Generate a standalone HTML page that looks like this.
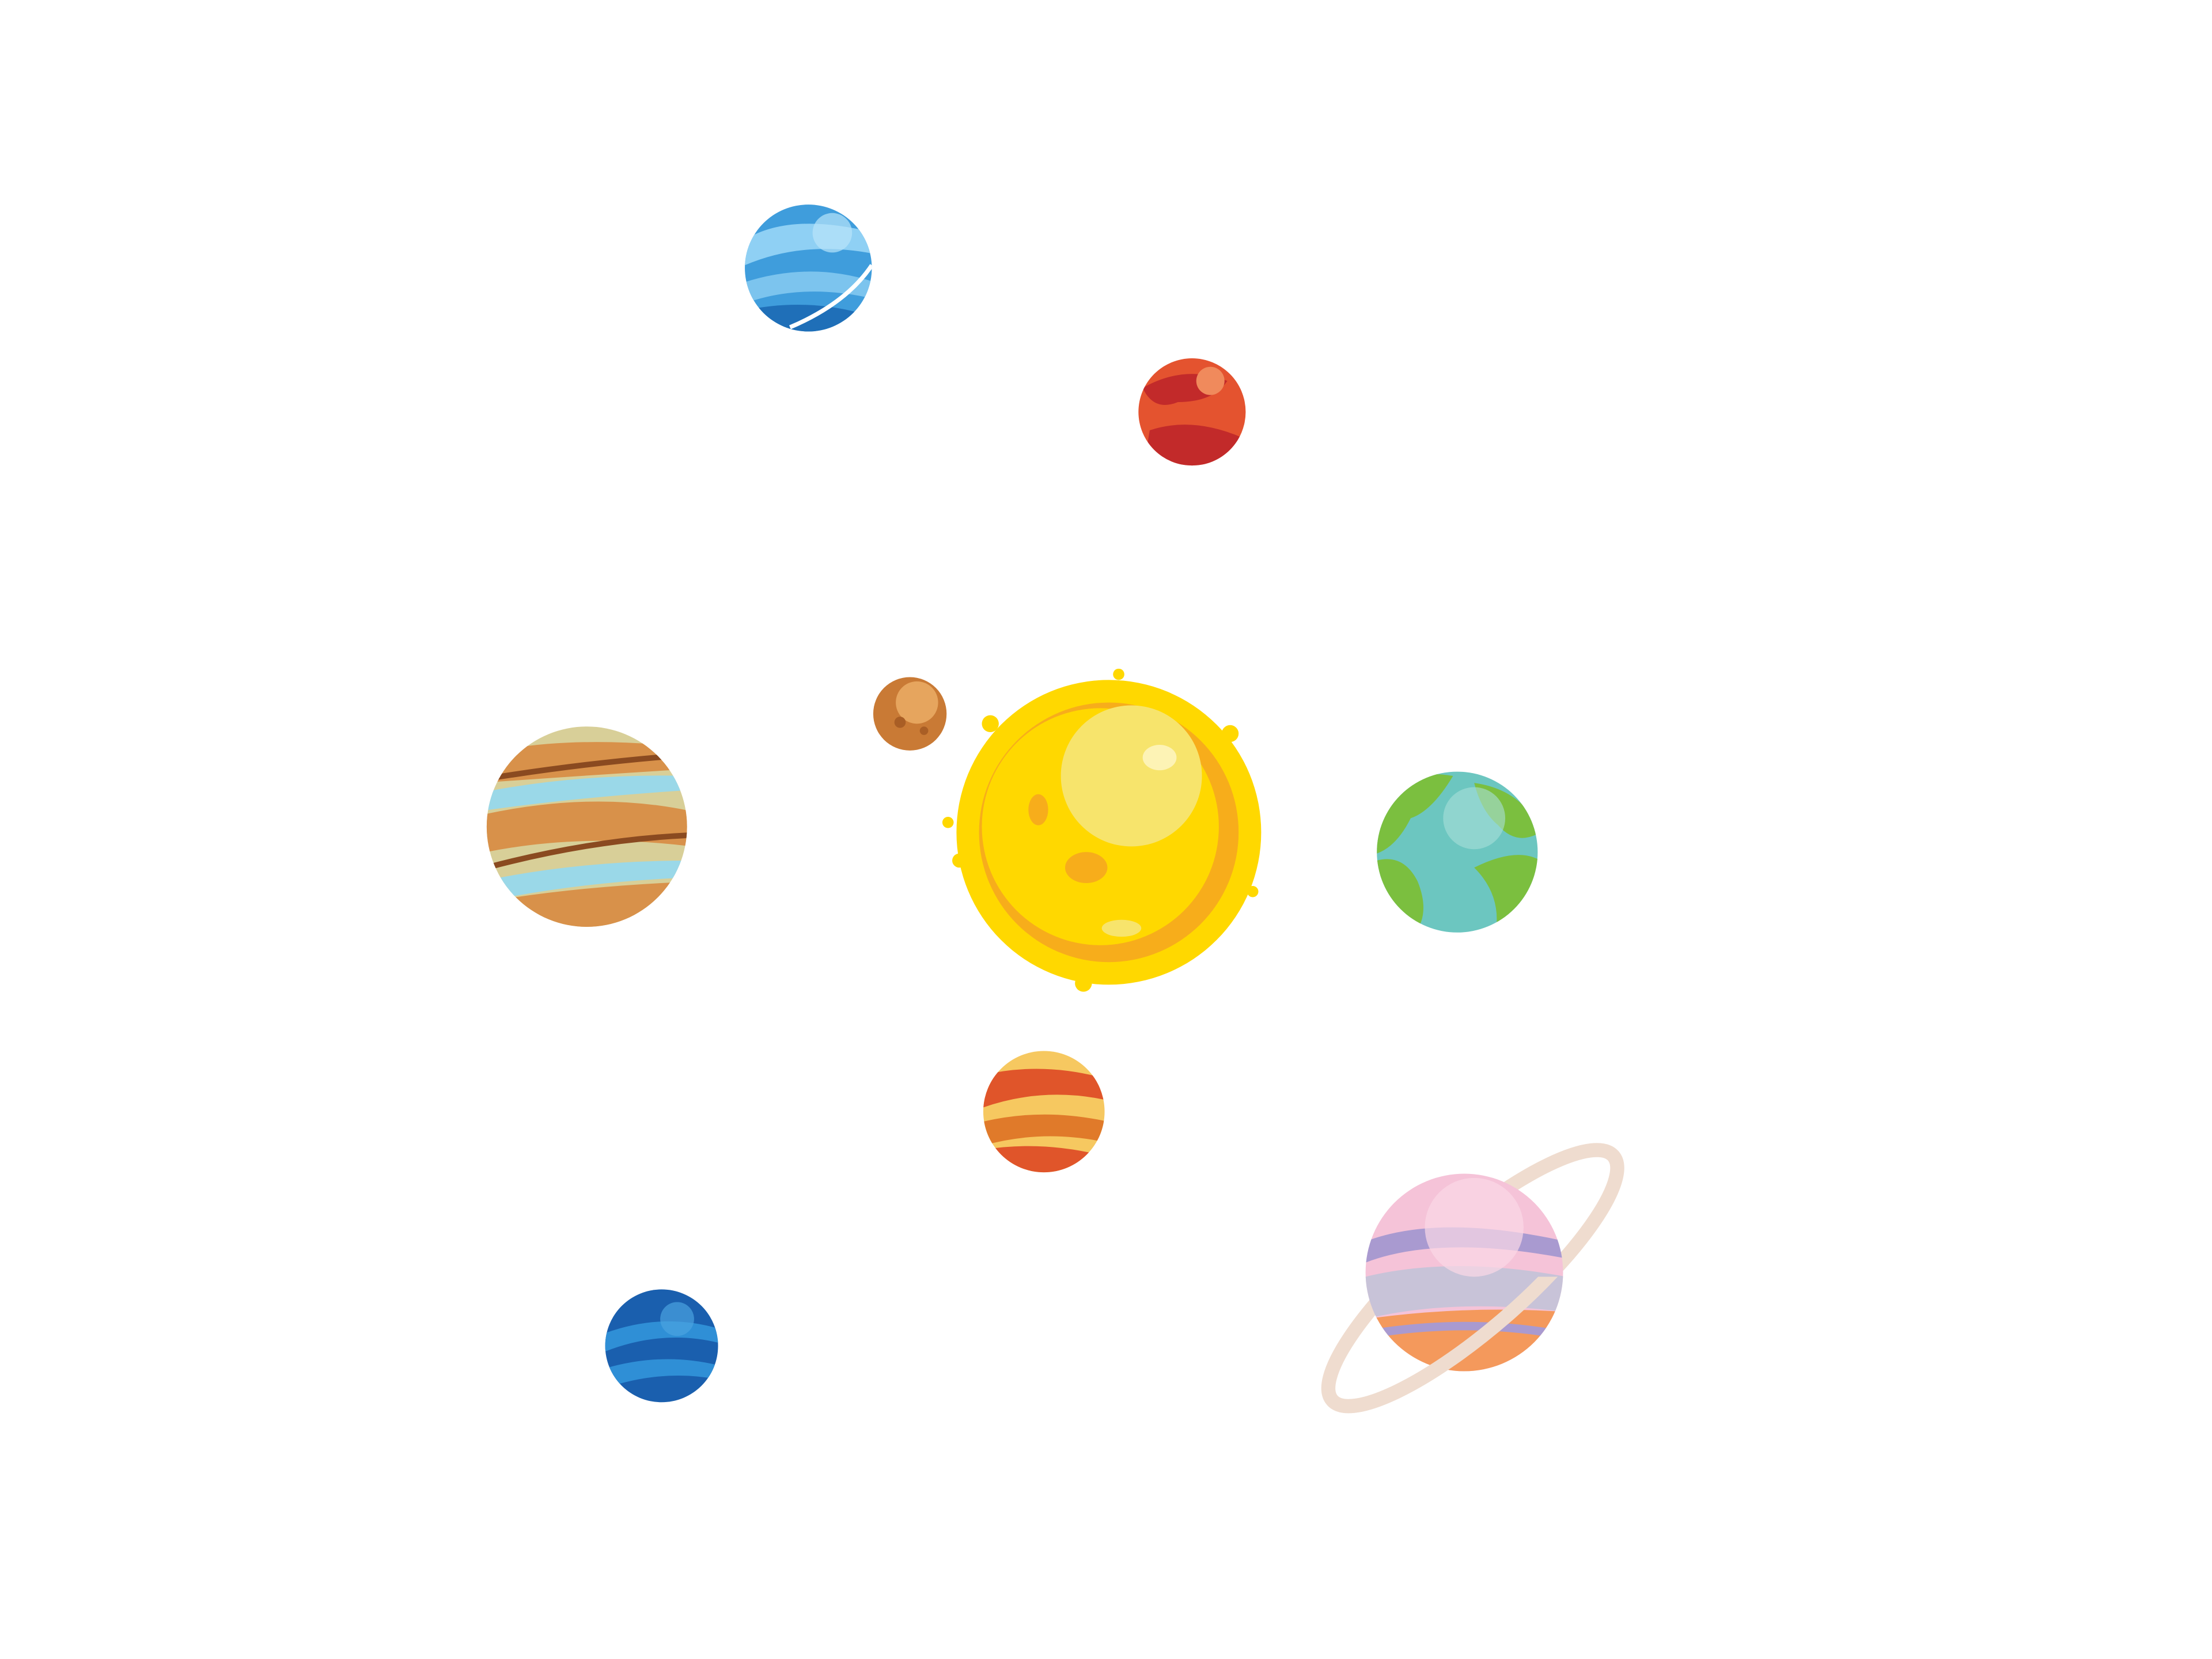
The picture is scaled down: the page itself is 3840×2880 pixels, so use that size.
<!DOCTYPE html>
<html><head><meta charset="utf-8"><style>
html,body{margin:0;padding:0;background:#fff;}
svg{display:block;}
</style></head><body>
<svg width="3840" height="2880" viewBox="0 0 1568 1176" xmlns="http://www.w3.org/2000/svg">
<defs>
<clipPath id="cU"><circle cx="573" cy="190" r="45"/></clipPath>
<clipPath id="cM"><circle cx="845" cy="292" r="38"/></clipPath>
<clipPath id="cJ"><circle cx="416" cy="586" r="71"/></clipPath>
<clipPath id="cE"><circle cx="1033" cy="604" r="57"/></clipPath>
<clipPath id="cV"><circle cx="740" cy="788" r="43"/></clipPath>
<clipPath id="cS"><circle cx="1038" cy="902" r="70"/></clipPath>
<clipPath id="cN"><circle cx="469" cy="954" r="40"/></clipPath>
<clipPath id="cFront"><rect x="900" y="905" width="300" height="200"/></clipPath>
</defs>
<rect width="1568" height="1176" fill="#fff"/>

<g>
<circle cx="573" cy="190" r="45" fill="#3f9ddc"/>
<g clip-path="url(#cU)">
<path d="M528 170 Q560 150 620 165 L620 180 Q570 170 528 188Z" fill="#8fd0f4"/>
<path d="M528 200 Q575 185 620 200 L620 212 Q570 200 528 215Z" fill="#7cc4ee"/>
<path d="M528 220 Q575 210 620 225 L620 240 L528 240Z" fill="#1f6fb8"/>
<circle cx="590" cy="165" r="14" fill="#b8e4fa" opacity=".7"/>
<path d="M560 232 Q600 215 618 188" stroke="#fff" stroke-width="3" fill="none"/>
</g></g>

<g>
<circle cx="845" cy="292" r="38" fill="#e4532f"/>
<g clip-path="url(#cM)">
<path d="M810 275 Q840 258 870 270 Q860 285 835 285 Q818 292 810 275Z" fill="#c22a2a"/>
<path d="M815 305 Q845 295 880 310 L880 335 L810 335Z" fill="#c22a2a"/>
<circle cx="858" cy="270" r="10" fill="#f08a5c"/>
</g></g>

<g>
<circle cx="645" cy="506" r="26" fill="#c97a35"/>
<circle cx="650" cy="498" r="15" fill="#e6a55e"/>
<circle cx="638" cy="512" r="4" fill="#a95e25"/><circle cx="655" cy="518" r="3" fill="#a95e25"/>
</g>

<g>
<circle cx="786" cy="590" r="108" fill="#ffd800"/>
<g fill="#ffd800">
<circle cx="702" cy="513" r="6"/><circle cx="872" cy="520" r="6"/><circle cx="888" cy="632" r="4"/>
<circle cx="768" cy="697" r="6"/><circle cx="680" cy="610" r="5"/><circle cx="672" cy="583" r="4"/>
<circle cx="793" cy="478" r="4"/><circle cx="877" cy="555" r="5"/>
</g>
<circle cx="786" cy="590" r="92" fill="#f7ad1b"/>
<circle cx="780" cy="586" r="84" fill="#ffd800"/>
<circle cx="802" cy="550" r="50" fill="#f7e46c"/>
<ellipse cx="822" cy="537" rx="12" ry="9" fill="#fdf3b5"/>
<ellipse cx="770" cy="615" rx="15" ry="11" fill="#f7ad1b"/>
<ellipse cx="736" cy="574" rx="7" ry="11" fill="#f7ad1b"/>
<ellipse cx="795" cy="658" rx="14" ry="6" fill="#f7e46c"/>
</g>

<g>
<circle cx="416" cy="586" r="71" fill="#d8cf98"/>
<g clip-path="url(#cJ)">
<path d="M340 535 Q400 520 490 530 L490 545 Q410 550 340 555Z" fill="#d8914a"/>
<path d="M340 562 Q410 548 490 550 L490 560 Q410 565 340 575Z" fill="#9ad8e8"/>
<path d="M340 578 Q420 560 490 575 L490 600 Q410 590 340 605Z" fill="#d8914a"/>
<path d="M345 615 Q420 595 490 592" stroke="#8a4a20" stroke-width="4" fill="none"/>
<path d="M345 552 Q420 540 490 535" stroke="#8a4a20" stroke-width="4" fill="none"/>
<path d="M340 625 Q410 610 490 610 L490 622 Q410 625 340 640Z" fill="#9ad8e8"/>
<path d="M340 640 Q410 628 490 625 L490 660 L340 660Z" fill="#d8914a"/>
</g></g>

<g>
<circle cx="1033" cy="604" r="57" fill="#6cc6c0"/>
<g clip-path="url(#cE)">
<path d="M976 560 Q1000 545 1030 550 Q1015 575 1000 580 Q990 600 976 605Z" fill="#7bbf3f"/>
<path d="M976 610 Q995 605 1005 625 Q1015 650 1000 665 L976 665Z" fill="#7bbf3f"/>
<path d="M1045 555 Q1080 560 1092 590 Q1075 600 1062 585 Q1050 575 1045 555Z" fill="#7bbf3f"/>
<path d="M1045 615 Q1075 600 1092 610 Q1090 650 1060 662 Q1065 635 1045 615Z" fill="#7bbf3f"/>
<circle cx="1045" cy="580" r="22" fill="#a9dfd9" opacity=".6"/>
</g></g>

<g>
<circle cx="740" cy="788" r="43" fill="#f6c860"/>
<g clip-path="url(#cV)">
<path d="M697 762 Q740 752 785 765 L785 780 Q740 770 697 785Z" fill="#e0552a"/>
<path d="M697 795 Q740 785 785 795 L785 810 Q740 800 697 812Z" fill="#e07a2a"/>
<path d="M697 815 Q740 808 785 820 L785 835 L697 835Z" fill="#e0552a"/>
</g></g>

<g>
<g transform="rotate(-41 1044 906)">
<ellipse cx="1044" cy="906" rx="132" ry="36" fill="none" stroke="#efdccf" stroke-width="10"/>
<ellipse cx="1044" cy="906" rx="120" ry="28" fill="none" stroke="#fff" stroke-width="2"/>
</g>
<circle cx="1038" cy="902" r="70" fill="#f5c3d8"/>
<g clip-path="url(#cS)">
<path d="M968 880 Q1020 860 1110 880 L1110 892 Q1020 875 968 895Z" fill="#a99ad0"/>
<path d="M968 905 Q1030 890 1110 905 L1110 930 Q1030 920 968 935Z" fill="#c8c3d8"/>
<path d="M968 935 Q1040 925 1110 930 L1110 975 L968 975Z" fill="#f4995c"/>
<path d="M975 945 Q1040 935 1100 945" stroke="#a99ad0" stroke-width="6" fill="none"/>
<circle cx="1045" cy="870" r="35" fill="#fbd9e7" opacity=".7"/>
</g>
<g clip-path="url(#cFront)">
<g transform="rotate(-41 1044 906)">
<path d="M912 906 A132 36 0 0 0 1176 906" fill="none" stroke="#efdccf" stroke-width="10"/>
</g>
</g>
</g>

<g>
<circle cx="469" cy="954" r="40" fill="#1a5fae"/>
<g clip-path="url(#cN)">
<path d="M429 945 Q470 930 510 942 L510 952 Q470 942 429 958Z" fill="#2f8fd6"/>
<path d="M429 970 Q470 958 510 968 L510 978 Q470 970 429 984Z" fill="#2f8fd6"/>
<circle cx="480" cy="935" r="12" fill="#4aa3e0" opacity=".7"/>
</g></g>
</svg>
</body></html>
